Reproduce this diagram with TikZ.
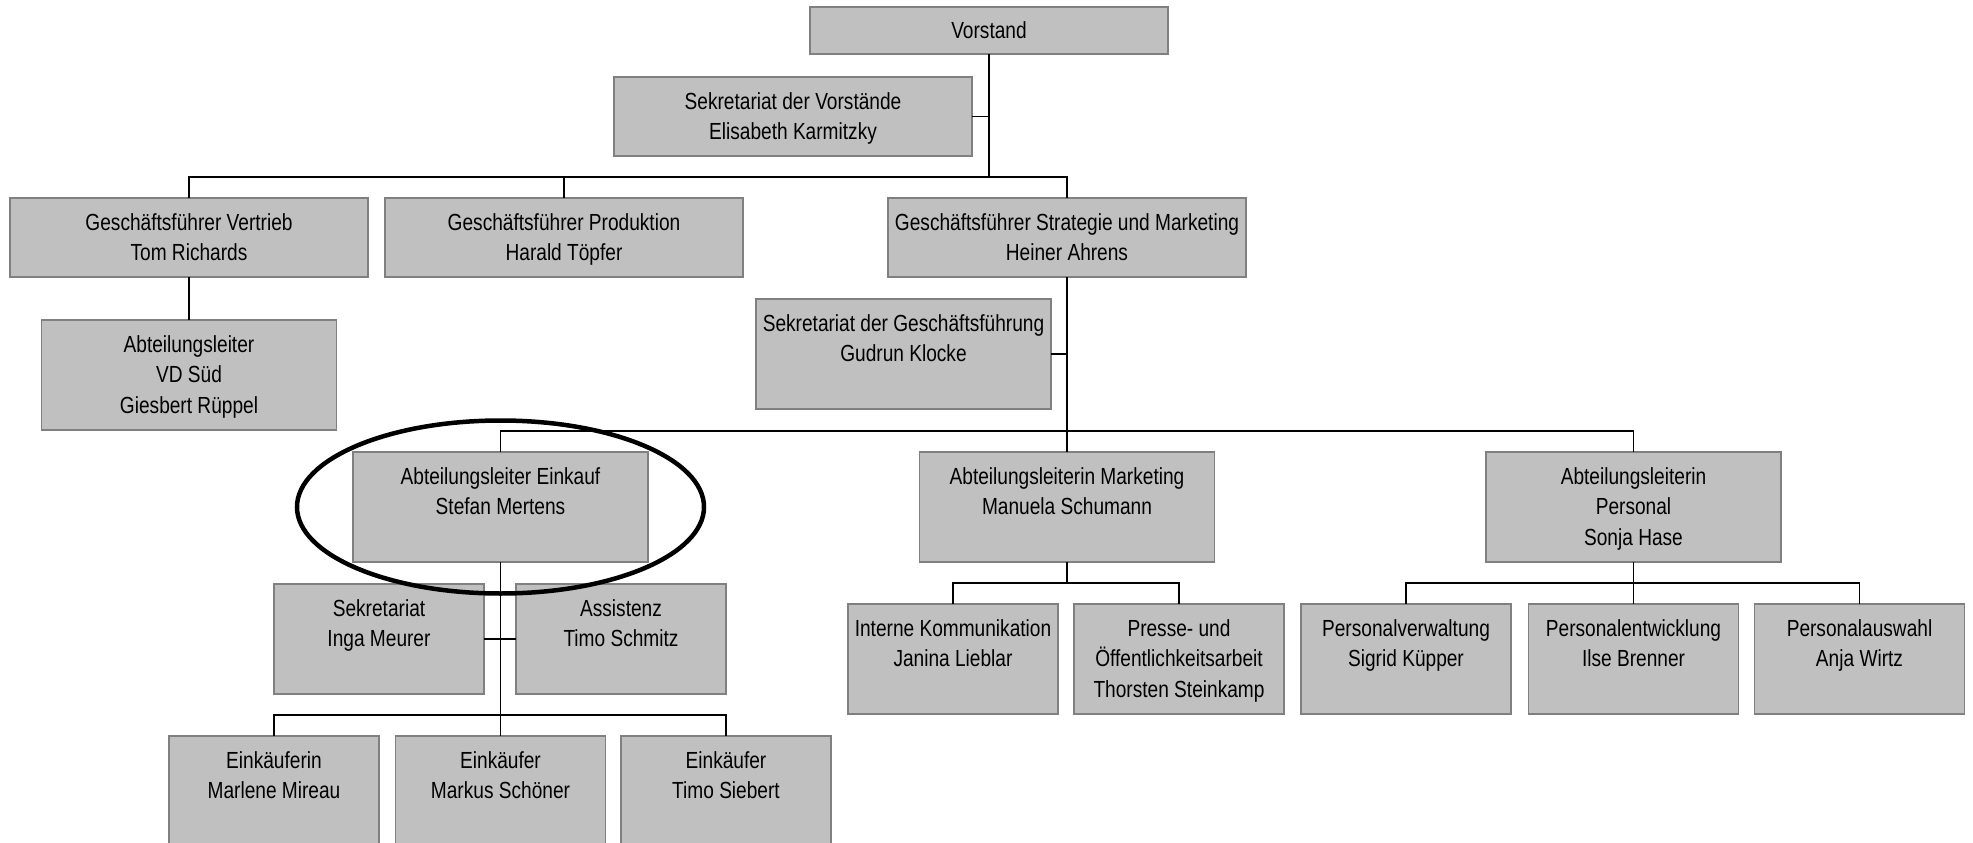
\documentclass[tikz,border=0pt]{standalone}
\usepackage{fontspec}
\setmainfont{Liberation Sans}[FakeStretch=0.82]
\definecolor{boxfill}{HTML}{C0C0C0}
\definecolor{boxline}{HTML}{808080}
\newcommand\boxtext[3]{\parbox[c][#2pt][t]{#1pt}{\centering\fontsize{23.3}{30.5}\selectfont\rule{0pt}{32pt}#3\par}}
\tikzset{
  orgbox/.style={draw=boxline, fill=boxfill, line width=1.5pt, inner sep=0pt, outer sep=0pt, anchor=north west},
  link/.style={draw=black, line width=1.8pt},
  ring/.style={draw=black, line width=4.5pt}
}
\begin{document}
\begin{tikzpicture}[x=1pt,y=-1pt]
\useasboundingbox (0,0) rectangle (1973,843);
\clip (0,0) rectangle (1973,843);
% boxes
\node[orgbox] (vor)  at (810,7)   {\boxtext{358}{47}{Vorstand}};
\node[orgbox] (sekv) at (614,77)  {\boxtext{358}{79}{Sekretariat der Vorstände\\Elisabeth Karmitzky}};
\node[orgbox] (gfv)  at (10,198)  {\boxtext{358}{79}{Geschäftsführer Vertrieb\\Tom Richards}};
\node[orgbox] (gfp)  at (385,198) {\boxtext{358}{79}{Geschäftsführer Produktion\\Harald Töpfer}};
\node[orgbox] (gfs)  at (888,198) {\boxtext{358}{79}{Geschäftsführer Strategie und Marketing\\Heiner Ahrens}};
\node[orgbox] (vds)  at (41.5,320) {\boxtext{295}{110}{Abteilungsleiter\\VD Süd\\Giesbert Rüppel}};
\node[orgbox] (sekg) at (756,299) {\boxtext{295}{110}{Sekretariat der Geschäftsführung\\Gudrun Klocke}};
\node[orgbox] (alE)  at (353,452) {\boxtext{295}{110}{Abteilungsleiter Einkauf\\Stefan Mertens}};
\node[orgbox] (alM)  at (919.5,452) {\boxtext{295}{110}{Abteilungsleiterin Marketing\\Manuela Schumann}};
\node[orgbox] (alP)  at (1486,452) {\boxtext{295}{110}{Abteilungsleiterin\\Personal\\Sonja Hase}};
\node[orgbox] (sekI) at (274,584) {\boxtext{210}{110}{Sekretariat\\Inga Meurer}};
\node[orgbox] (assi) at (516,584) {\boxtext{210}{110}{Assistenz\\Timo Schmitz}};
\node[orgbox] (ik)   at (848,604) {\boxtext{210}{110}{Interne Kommunikation\\Janina Lieblar}};
\node[orgbox] (pr)   at (1074,604) {\boxtext{210}{110}{Presse- und\\Öffentlichkeitsarbeit\\Thorsten Steinkamp}};
\node[orgbox] (pv)   at (1301,604) {\boxtext{210}{110}{Personalverwaltung\\Sigrid Küpper}};
\node[orgbox] (pe)   at (1528.5,604) {\boxtext{210}{110}{Personalentwicklung\\Ilse Brenner}};
\node[orgbox] (pa)   at (1754.5,604) {\boxtext{210}{110}{Personalauswahl\\Anja Wirtz}};
\node[orgbox] (ek1)  at (169,736) {\boxtext{210}{110}{Einkäuferin\\Marlene Mireau}};
\node[orgbox] (ek2)  at (395.5,736) {\boxtext{210}{110}{Einkäufer\\Markus Schöner}};
\node[orgbox] (ek3)  at (621,736) {\boxtext{210}{110}{Einkäufer\\Timo Siebert}};
% connectors
\coordinate (b1) at (vor.south |- 0,177);
\draw[link] (vor.south) -- (b1);
\draw[link] (gfv.north) |- (b1);
\draw[link] (gfs.north) |- (b1);
\draw[link] (gfp.north) -- (gfp.north |- b1);
\draw[link] (sekv.east) -- (sekv.east -| vor.south);
\draw[link] (gfv.south) -- (gfv.south |- vds.north);
\coordinate (b2) at (gfs.south |- 0,431);
\draw[link] (gfs.south) -- (gfs.south |- alM.north);
\draw[link] (sekg.east) -- (sekg.east -| gfs.south);
\draw[link] (alE.north) |- (b2);
\draw[link] (alP.north) |- (b2);
\coordinate (b3) at (alE.south |- 0,715);
\draw[link] (alE.south) -- (alE.south |- ek2.north);
\draw[link] (sekI.east) -- (assi.west);
\draw[link] (ek1.north) |- (b3);
\draw[link] (ek3.north) |- (b3);
\coordinate (b4) at (alM.south |- 0,583);
\draw[link] (alM.south) -- (b4);
\draw[link] (ik.north) |- (b4);
\draw[link] (pr.north) |- (b4);
\coordinate (b5) at (alP.south |- 0,583);
\draw[link] (alP.south) -- (alP.south |- pe.north);
\draw[link] (pv.north) |- (b5);
\draw[link] (pa.north) |- (b5);
% highlight
\draw[ring] (alE.center) ellipse [x radius=203.5, y radius=86.5];
\end{tikzpicture}
\end{document}
